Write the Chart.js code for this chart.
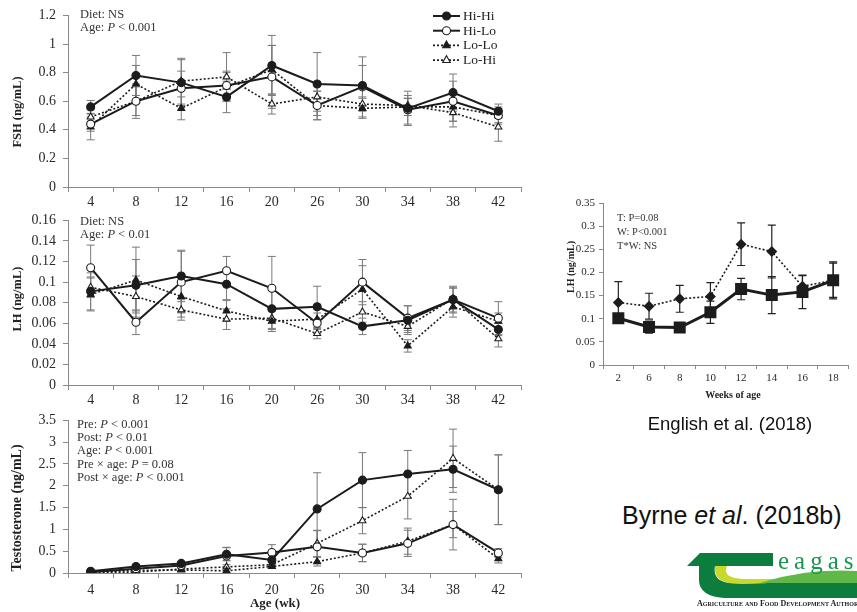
<!DOCTYPE html>
<html><head><meta charset="utf-8">
<script src="https://cdn.jsdelivr.net/npm/chart.js@4.4.0/dist/chart.umd.min.js"></script>
<style>
html,body{margin:0;padding:0;background:#fff;}
body{width:857px;height:612px;position:relative;overflow:hidden;font-family:"Liberation Serif","Times New Roman",serif;color:#222;}
canvas{position:absolute;}
.txt{position:absolute;white-space:nowrap;line-height:13px;font-size:12.5px;color:#333;}
.yt{position:absolute;white-space:nowrap;font-weight:bold;transform:translate(-50%,-50%) rotate(-90deg);color:#222;}
.sans{position:absolute;white-space:nowrap;font-family:"Liberation Sans",Arial,sans-serif;color:#111;transform:translate(-50%,-50%);}
</style></head><body>
<canvas id="fsh" width="530" height="210" style="left:0px;top:0px"></canvas>
<canvas id="lh" width="530" height="200" style="left:0px;top:205px"></canvas>
<canvas id="tes" width="530" height="198" style="left:0px;top:405px"></canvas>
<canvas id="lh2" width="297" height="200" style="left:560px;top:190px"></canvas>

<div class="yt" style="left:17px;top:112px;font-size:12.5px">FSH (ng/mL)</div>
<div class="yt" style="left:17px;top:299px;font-size:12.5px">LH (ng/mL)</div>
<div class="yt" style="left:17px;top:508px;font-size:14px">Testosterone (ng/mL)</div>
<div class="yt" style="left:570px;top:267px;font-size:10px">LH (ng/mL)</div>
<div class="yt" style="left:275px;top:603px;font-size:13px;transform:translate(-50%,-50%)">Age (wk)</div>
<div class="yt" style="left:733px;top:394px;font-size:10px;transform:translate(-50%,-50%)">Weeks of age</div>

<div class="txt" style="left:80px;top:8px">Diet: NS<br>Age: <i>P</i> &lt; 0.001</div>
<div class="txt" style="left:80px;top:215px">Diet: NS<br>Age: <i>P</i> &lt; 0.01</div>
<div class="txt" style="left:77px;top:418px;line-height:13.2px">Pre: <i>P</i> &lt; 0.001<br>Post: <i>P</i> &lt; 0.01<br>Age: <i>P</i> &lt; 0.001<br>Pre × age: <i>P</i> = 0.08<br>Post × age: <i>P</i> &lt; 0.001</div>
<div class="txt" style="left:617px;top:211px;font-size:10.5px;line-height:14px">T: P=0.08<br>W: P&lt;0.001<br>T*W: NS</div>

<div class="sans" style="left:730px;top:424px;font-size:18.5px">English et al. (2018)</div>
<div class="sans" style="left:622px;top:515px;font-size:25px;transform:translate(0,-50%)">Byrne <i>et al</i>. (2018b)</div>

<svg style="position:absolute;left:0;top:0" width="857" height="612">
  <path d="M687,566 L700,553 L773,553 L773,566 Z" fill="#0d7d3d"/>
  <path d="M699,566 L715,566 Q712,582 732,583 L857,583 L857,598 L724,598 Q699,596 699,580 Z" fill="#0d7d3d"/>
  <path d="M715,566 L727,566 Q722,578 742,579 L795,579 Q772,584 742,584 Q715,584 715,570 Z" fill="#c8d92c"/>
  <path d="M760,583 Q805,568 857,571 L857,583 Z" fill="#5fb847"/>
  <text x="778" y="569" font-family="Liberation Serif,serif" font-size="25" fill="#1b9650" letter-spacing="5">eagas</text>
  <text x="697" y="606" font-family="Liberation Serif,serif" font-size="8" font-weight="bold" fill="#222" style="font-variant:small-caps">Agriculture and Food Development Authority</text>
</svg>

<script>
// ---------- data ----------
const ages = ['4','8','12','16','20','26','30','34','38','42'];
const seriesNames = ['Hi-Hi','Hi-Lo','Lo-Lo','Lo-Hi'];

const fshHiHi = [0.56,0.78,0.73,0.63,0.85,0.72,0.71,0.55,0.66,0.53];
const fshHiLo = [0.44,0.60,0.69,0.71,0.77,0.57,0.70,0.54,0.60,0.50];
const fshLoLo = [0.42,0.72,0.55,0.70,0.82,0.57,0.55,0.56,0.56,0.50];
const fshLoHi = [0.49,0.60,0.74,0.77,0.58,0.63,0.58,0.57,0.52,0.42];
const fshErrHiHi = [0.045,0.14,0.16,0.11,0.21,0.22,0.14,0.12,0.13,0.05];
const fshErrHiLo = [0.05,0.12,0.12,0.10,0.22,0.10,0.21,0.10,0.14,0.06];
const fshErrLoLo = [0.09,0.13,0.08,0.10,0.17,0.10,0.07,0.06,0.10,0.05];
const fshErrLoHi = [0.05,0.10,0.16,0.17,0.07,0.10,0.05,0.05,0.10,0.10];

const lhHiHi = [0.091,0.097,0.106,0.098,0.074,0.076,0.057,0.063,0.083,0.054];
const lhHiLo = [0.114,0.061,0.100,0.111,0.094,0.060,0.100,0.065,0.083,0.065];
const lhLoLo = [0.088,0.102,0.086,0.072,0.062,0.064,0.093,0.038,0.076,0.062];
const lhLoHi = [0.095,0.086,0.073,0.064,0.065,0.050,0.071,0.057,0.084,0.045];
const lhErrHiHi = [0.018,0.025,0.025,0.015,0.020,0.020,0.008,0.014,0.012,0.006];
const lhErrHiLo = [0.022,0.012,0.030,0.014,0.031,0.010,0.022,0.012,0.013,0.016];
const lhErrLoLo = [0.016,0.032,0.020,0.010,0.010,0.010,0.023,0.006,0.010,0.008];
const lhErrLoHi = [0.010,0.020,0.010,0.010,0.010,0.005,0.010,0.006,0.010,0.008];

const tHiHi = [0.04,0.15,0.22,0.43,0.30,1.47,2.13,2.27,2.38,1.91];
const tHiLo = [0.02,0.10,0.17,0.39,0.47,0.60,0.46,0.68,1.11,0.46];
const tLoLo = [0.02,0.06,0.07,0.05,0.15,0.26,0.46,0.73,1.11,0.33];
const tLoHi = [0.02,0.02,0.09,0.14,0.19,0.68,1.20,1.76,2.63,1.91];
const tErrHiHi = [0.02,0.03,0.04,0.15,0.10,0.83,0.63,0.54,0.53,0.80];
const tErrHiLo = [0.01,0.03,0.04,0.20,0.18,0.37,0.20,0.30,0.58,0.10];
const tErrLoLo = [0.01,0.02,0.03,0.05,0.04,0.10,0.20,0.30,0.30,0.10];
const tErrLoHi = [0.01,0.02,0.03,0.15,0.05,0.30,0.30,0.52,0.67,0.80];

const weeks = ['2','6','8','10','12','14','16','18'];
const lhDiamond = [0.135,0.127,0.143,0.148,0.261,0.245,0.170,0.183];
const lhDiamondErr = [0.045,0.028,0.029,0.030,0.046,0.057,0.023,0.040];
const lhSquare = [0.101,0.082,0.081,0.114,0.164,0.151,0.158,0.183];
const lhSquareErr = [0.010,0.013,0.006,0.024,0.023,0.040,0.036,0.037];

// ---------- plugins ----------
function marker(ctx, style, r, x, y, fill, stroke, bw) {
  ctx.save();
  ctx.setLineDash([]);
  ctx.fillStyle = fill; ctx.strokeStyle = stroke; ctx.lineWidth = bw;
  ctx.beginPath();
  if (style === 'circle') { ctx.arc(x, y, r, 0, Math.PI * 2); }
  else if (style === 'triangle') {
    ctx.moveTo(x, y - r * 1.1); ctx.lineTo(x + r * 0.95, y + r * 0.6); ctx.lineTo(x - r * 0.95, y + r * 0.6); ctx.closePath();
  }
  ctx.fill(); if (bw > 0) ctx.stroke();
  ctx.restore();
}

const errorBars = {
  id: 'errorBars',
  beforeDatasetsDraw(chart) {
    const ctx = chart.ctx, ys = chart.scales.y;
    chart.data.datasets.forEach((ds, i) => {
      if (!ds.errors) return;
      const meta = chart.getDatasetMeta(i);
      ctx.save();
      ctx.strokeStyle = ds.errColor || '#7a7a7a';
      ctx.lineWidth = ds.errWidth || 1;
      ctx.setLineDash([]);
      meta.data.forEach((pt, j) => {
        const v = ds.data[j], e = ds.errors[j];
        const x = pt.x;
        const yt = ys.getPixelForValue(v + e), yb = ys.getPixelForValue(Math.max(0, v - e));
        const c = ds.capHalf || 4;
        ctx.beginPath();
        ctx.moveTo(x, yt); ctx.lineTo(x, yb);
        ctx.moveTo(x - c, yt); ctx.lineTo(x + c, yt);
        ctx.moveTo(x - c, yb); ctx.lineTo(x + c, yb);
        ctx.stroke();
      });
      ctx.restore();
    });
  }
};

const lineLegend = {
  id: 'lineLegend',
  afterDraw(chart, args, opts) {
    if (!opts || !opts.show) return;
    const ctx = chart.ctx;
    chart.data.datasets.forEach((ds, i) => {
      const y = opts.y + i * opts.row;
      ctx.save();
      ctx.strokeStyle = ds.borderColor; ctx.lineWidth = ds.borderWidth;
      ctx.setLineDash(ds.borderDash || []);
      ctx.beginPath(); ctx.moveTo(opts.x, y); ctx.lineTo(opts.x + opts.len, y); ctx.stroke();
      ctx.restore();
      marker(ctx, ds.pointStyle, ds.pointRadius, opts.x + opts.len / 2, y, ds.pointBackgroundColor, ds.pointBorderColor, ds.pointBorderWidth);
      ctx.save();
      ctx.fillStyle = '#222'; ctx.font = '13.5px "Liberation Serif", serif';
      ctx.textBaseline = 'middle'; ctx.textAlign = 'left';
      ctx.fillText(ds.label, opts.x + opts.len + 3, y + 0.5);
      ctx.restore();
    });
  }
};

// ---------- builders ----------
const INK = '#1c1c1c';
function seriesSet(vals, errs) {
  const styles = [
    {borderDash: [], borderWidth: 2, pointStyle: 'circle', pointBackgroundColor: INK},
    {borderDash: [], borderWidth: 2, pointStyle: 'circle', pointBackgroundColor: '#ffffff'},
    {borderDash: [2, 2], borderWidth: 1.6, pointStyle: 'triangle', pointBackgroundColor: INK},
    {borderDash: [2, 2], borderWidth: 1.6, pointStyle: 'triangle', pointBackgroundColor: '#ffffff'}
  ];
  return vals.map((v, i) => Object.assign({
    label: seriesNames[i], data: v, errors: errs[i],
    borderColor: INK, pointBorderColor: INK, pointBorderWidth: 1.1,
    pointRadius: 4, pointHoverRadius: 4, tension: 0, fill: false
  }, styles[i]));
}
const fmt = v => String(Number(v.toFixed(3)));

function leftChart(id, datasets, ymax, step, padTop, xH, legend, labPad) {
  return new Chart(document.getElementById(id), {
    type: 'line',
    data: {labels: ages, datasets},
    options: {
      responsive: false, animation: false, devicePixelRatio: 1,
      layout: {padding: {left: 0, right: 9, top: padTop, bottom: 0}},
      plugins: {legend: {display: false}, tooltip: {enabled: false},
        lineLegend: legend || {show: false}},
      scales: {
        x: {type: 'category', offset: true,
          grid: {offset: true, drawOnChartArea: false, drawTicks: true, tickLength: 5, color: '#8a8a8a'},
          border: {display: true, color: '#8a8a8a', width: 1},
          ticks: {color: '#2a2a2a', font: {family: '"Liberation Serif", serif', size: 14}, padding: labPad || 2, maxRotation: 0, autoSkip: false},
          afterFit: s => { s.height = xH; }},
        y: {min: 0, max: ymax,
          grid: {drawOnChartArea: false, drawTicks: true, tickLength: 5, color: '#8a8a8a'},
          border: {display: true, color: '#8a8a8a', width: 1},
          ticks: {stepSize: step, color: '#2a2a2a', font: {family: '"Liberation Serif", serif', size: 14}, padding: 7, callback: fmt},
          afterFit: s => { s.width = 68; }}
      }
    },
    plugins: [errorBars, lineLegend]
  });
}

leftChart('fsh', seriesSet([fshHiHi, fshHiLo, fshLoLo, fshLoHi], [fshErrHiHi, fshErrHiLo, fshErrLoLo, fshErrLoHi]), 1.2, 0.2, 15, 23,
  {show: true, x: 433, y: 16, row: 14.7, len: 27});
leftChart('lh', seriesSet([lhHiHi, lhHiLo, lhLoLo, lhLoHi], [lhErrHiHi, lhErrHiLo, lhErrLoLo, lhErrLoHi]), 0.16, 0.02, 15, 20);
leftChart('tes', seriesSet([tHiHi, tHiLo, tLoLo, tLoHi], [tErrHiHi, tErrHiLo, tErrLoLo, tErrLoHi]), 3.5, 0.5, 11, 30, null, 4);

new Chart(document.getElementById('lh2'), {
  type: 'line',
  data: {labels: weeks, datasets: [
    {label: 'Diamond', data: lhDiamond, errors: lhDiamondErr, errColor: '#222', errWidth: 1.2,
      borderColor: INK, borderWidth: 1.6, borderDash: [2, 2], pointStyle: 'rectRot', pointRadius: 5.5,
      pointBackgroundColor: INK, pointBorderColor: INK, pointBorderWidth: 0, tension: 0},
    {label: 'Square', data: lhSquare, errors: lhSquareErr, errColor: '#222', errWidth: 1.2,
      borderColor: INK, borderWidth: 3, pointStyle: 'rect', pointRadius: 8.5,
      pointBackgroundColor: INK, pointBorderColor: INK, pointBorderWidth: 0, tension: 0}
  ]},
  options: {
    responsive: false, animation: false, devicePixelRatio: 1,
    layout: {padding: {left: 0, right: 2, top: 13, bottom: 0}},
    plugins: {legend: {display: false}, tooltip: {enabled: false}},
    scales: {
      x: {type: 'category', offset: true,
        grid: {offset: true, drawOnChartArea: false, drawTicks: true, tickLength: 4, color: '#8a8a8a'},
        border: {display: true, color: '#8a8a8a'},
        ticks: {color: '#2a2a2a', font: {family: '"Liberation Serif", serif', size: 11}, padding: 3, maxRotation: 0, autoSkip: false},
        afterFit: s => { s.height = 25; }},
      y: {min: 0, max: 0.35,
        grid: {drawOnChartArea: false, drawTicks: true, tickLength: 4, color: '#8a8a8a'},
        border: {display: true, color: '#8a8a8a'},
        ticks: {stepSize: 0.05, color: '#2a2a2a', font: {family: '"Liberation Serif", serif', size: 11}, padding: 4, callback: fmt},
        afterFit: s => { s.width = 43; }}
    }
  },
  plugins: [errorBars]
});
</script>
</body></html>
